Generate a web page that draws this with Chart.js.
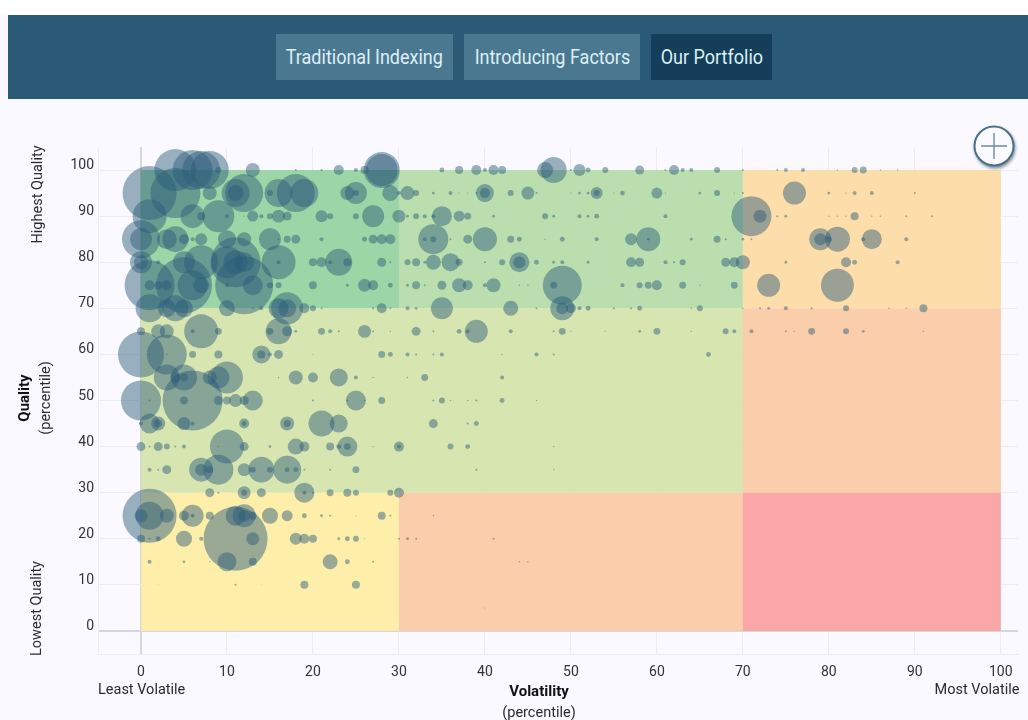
<!DOCTYPE html>
<html>
<head>
<meta charset="utf-8">
<title>Our Portfolio</title>
<script src="https://cdn.jsdelivr.net/npm/chart.js@4/dist/chart.umd.min.js"></script>
<style>
  html, body { margin: 0; padding: 0; width: 1028px; height: 720px; overflow: hidden; background: #f9f9ff; font-family: Roboto, sans-serif; }
  #topStrip { position: absolute; left: 0; top: 0; width: 1028px; height: 15px; background: #ffffff; }
  #header { position: absolute; left: 8px; top: 15px; width: 1020px; height: 84px; background: #2b5a76; }
  .tab { position: absolute; top: 34px; height: 46px; line-height: 46px; background: #4b7891; color: #dcf0f6; font-size: 20px; text-align: center; overflow: hidden; }
  .tab span { display: inline-block; transform: scaleX(0.9); white-space: nowrap; }
  .tab.active { background: #143e59; }
  #grafico { position: absolute; left: 0; top: 0; }
  .nota { position: absolute; color: #2b2b2b; font-size: 14.5px; white-space: nowrap; transform-origin: center center; text-align: center; line-height: 21px; }
  .nota b { font-weight: 700; color: #111; font-size: 15px; }
  #plus { position: absolute; left: 972px; top: 125px; }
</style>
</head>
<body>
<div id="topStrip"></div>
<div id="header"></div>
<div class="tab" style="left:276px;width:177px"><span>Traditional Indexing</span></div>
<div class="tab" style="left:464px;width:176px"><span>Introducing Factors</span></div>
<div class="tab active" style="left:651px;width:121px"><span>Our Portfolio</span></div>
<canvas id="grafico" width="1028" height="720"></canvas>

<div class="nota" style="left:98px;top:679px;width:86px">Least Volatile</div>
<div class="nota" style="left:932px;top:679px;width:90px">Most Volatile</div>
<div class="nota" style="left:479px;top:681px;width:120px"><b>Volatility</b><br>(percentile)</div>
<div class="nota" style="left:-23px;top:184px;width:120px;transform:rotate(-90deg)">Highest Quality</div>
<div class="nota" style="left:-24px;top:598px;width:120px;transform:rotate(-90deg)">Lowest Quality</div>
<div class="nota" style="left:-25px;top:377px;width:120px;transform:rotate(-90deg)"><b>Quality</b><br>(percentile)</div>

<svg id="plus" width="46" height="46">
  <defs><filter id="sombra" x="-30%" y="-30%" width="160%" height="160%"><feDropShadow dx="1" dy="2" stdDeviation="1.5" flood-color="#35495a" flood-opacity="0.6"/></filter></defs>
  <circle cx="22" cy="21" r="19.5" fill="#fbfbff" stroke="#4d6d84" stroke-width="2" filter="url(#sombra)"/>
  <path d="M9 21H35M22 8V34" stroke="#6f8ca0" stroke-width="1.4" fill="none"/>
</svg>

<script>
// Holdings per quality row: [volatility percentile, portfolio weight]
const q100 = [[4,441],[6,400],[7,361],[8,361],[9,9],[13,49],[18,1],[21,1],[23,25],[25,4],[26,16],[28,324],[28,256],[35,6],[37,16],[39,25],[40,4],[41,25],[42,16],[47,64],[48,169],[50,1],[51,36],[52,6],[54,9],[58,20],[61,1],[62,25],[63,4],[64,4],[67,9],[70,1],[74,1],[75,4],[77,4],[81,0.5],[83,9],[84,12],[86,0.5],[88,0.5]];
const q95 = [[1,729],[4,625],[8,49],[11,196],[11,64],[12,361],[15,9],[16,196],[18,361],[19,196],[24,49],[25,121],[25,9],[29,64],[30,4],[31,49],[32,9],[34,2],[36,4],[37,0.5],[38,0.5],[39,1],[40,81],[40,25],[43,9],[45,42],[46,1],[50,0.5],[51,2],[52,2],[53,36],[53,9],[55,0.5],[56,6],[60,30],[61,0.5],[65,2],[67,9],[69,0.5],[70,1],[76,132],[80,2],[82,0.5],[83,4],[85,4],[90,1]];
const q90 = [[1,289],[6,144],[7,16],[9,256],[10,4],[12,0.5],[13,30],[14,4],[15,9],[16,42],[17,20],[21,36],[22,9],[25,9],[27,121],[30,42],[31,2],[32,9],[33,4],[34,4],[35,100],[37,30],[38,12],[41,2],[47,9],[48,2],[51,4],[52,2],[53,6],[61,4],[71,400],[72,42],[74,1],[75,2],[80,0.5],[81,0.5],[82,0.5],[83,16],[85,0.5],[86,0.5],[89,1],[92,1]];
const q85 = [[0,361],[0,121],[3,100],[4,169],[5,25],[6,4],[7,36],[10,81],[12,49],[15,121],[16,1],[17,12],[18,20],[21,4],[26,6],[27,20],[28,25],[29,25],[33,4],[34,225],[34,9],[36,1],[38,20],[40,144],[43,12],[44,6],[47,0.5],[49,6],[53,4],[57,36],[59,144],[59,2],[64,2],[67,12],[68,1],[70,2],[71,1],[79,121],[79,36],[80,9],[81,156],[84,4],[85,100],[89,4]];
const q80 = [[0,121],[0,49],[2,4],[5,121],[7,289],[10,256],[11,625],[11,144],[12,100],[16,289],[16,4],[20,16],[21,25],[22,4],[23,182],[24,16],[28,20],[29,1],[31,9],[32,16],[33,2],[34,56],[36,81],[37,12],[40,1],[42,9],[44,100],[44,36],[46,6],[48,2],[49,4],[52,2],[57,25],[58,20],[61,4],[62,1],[63,9],[68,20],[69,25],[70,49],[75,2],[82,25],[83,6],[88,4]];
const q75 = [[1,625],[1,25],[2,16],[3,25],[5,784],[6,225],[7,64],[10,4],[12,841],[13,100],[15,9],[16,9],[20,16],[24,2],[26,42],[27,25],[29,6],[31,2],[32,16],[33,1],[35,20],[37,49],[38,25],[40,4],[41,49],[44,0.5],[45,0.5],[48,12],[49,380],[56,4],[58,9],[59,12],[60,25],[63,12],[65,0.5],[69,12],[73,132],[81,272]];
const q70 = [[1,196],[3,81],[4,169],[5,81],[10,64],[13,1],[14,4],[16,100],[17,256],[17,81],[19,25],[20,9],[21,1],[27,1],[28,25],[29,1],[31,4],[32,2],[35,121],[43,56],[46,1],[49,144],[49,36],[50,25],[51,4],[52,6],[55,1],[57,1],[58,6],[64,0.5],[65,9],[70,0.5],[72,1],[73,2],[75,4],[78,1],[82,9],[87,0.5],[89,0.5],[91,16]];
const q65 = [[0,16],[2,49],[3,49],[6,4],[7,289],[9,12],[15,12],[16,169],[17,25],[18,2],[21,12],[22,4],[23,1],[26,42],[27,1],[29,0.5],[32,20],[34,1],[37,6],[38,4],[39,132],[43,4],[48,1],[49,12],[50,0.5],[54,0.5],[58,2],[60,12],[64,0.5],[68,9],[69,4],[71,4],[75,1],[76,0.5],[78,12],[82,9],[84,2],[91,0.5]];
const q60 = [[0,529],[1,0.5],[3,400],[3,0.5],[6,12],[9,16],[14,81],[14,16],[15,4],[16,20],[20,0.25],[28,12],[29,6],[31,4],[32,1],[34,1],[35,4],[42,0.5],[46,4],[48,1],[66,6]];
const q55 = [[3,169],[4,25],[5,169],[5,16],[8,49],[9,121],[10,256],[16,0.5],[18,49],[20,25],[23,81],[25,4],[27,0.5],[31,0.5],[33,12],[42,4]];
const q50 = [[0,400],[1,1],[5,16],[6,900],[9,20],[10,16],[11,42],[12,20],[13,100],[20,1],[24,1],[25,100],[26,0.5],[28,12],[34,1],[35,9],[36,0.5],[38,0.5],[39,1],[42,6],[46,0.5]];
const q45 = [[0,4],[1,100],[2,49],[2,16],[5,42],[6,4],[12,25],[12,6],[17,49],[17,12],[21,169],[23,81],[34,20],[38,1],[39,6]];
const q40 = [[0,20],[1,1],[2,20],[3,9],[4,1],[5,4],[9,0.5],[10,289],[12,20],[15,2],[18,64],[19,25],[22,16],[23,6],[24,100],[24,12],[27,0.5],[30,25],[30,4],[36,9],[38,6],[48,0.5]];
const q35 = [[1,4],[2,1],[3,20],[7,144],[7,36],[8,12],[9,225],[12,42],[13,9],[14,169],[15,9],[17,196],[17,6],[18,6],[19,1],[22,1],[25,12],[39,1],[48,0.5]];
const q30 = [[8,20],[9,1],[12,42],[12,9],[14,20],[19,100],[19,4],[20,1],[22,12],[24,16],[25,9],[29,9],[30,25]];
const q25 = [[1,729],[1,196],[0,42],[3,49],[5,25],[6,121],[6,4],[8,16],[11,100],[12,132],[12,36],[13,16],[15,64],[17,30],[19,6],[21,2],[22,1],[25,0.25],[28,16],[29,1],[34,0.5]];
const q20 = [[0,16],[1,1],[2,6],[5,64],[7,4],[11,1024],[13,42],[18,36],[19,25],[20,16],[23,2],[24,6],[25,9],[26,0.25],[30,1],[31,2],[32,1],[41,1]];
const q15 = [[1,4],[5,2],[8,0.5],[10,90],[13,16],[22,56],[24,6],[27,1],[44,0.5],[45,0.5]];
const q10 = [[2,0.1],[11,1],[14,0.1],[19,16],[25,16]];
const q5 = [[40,0.25]];

const qualityLevels = [100, 95, 90, 85, 80, 75, 70, 65, 60, 55, 50, 45, 40, 35, 30, 25, 20, 15, 10, 5];
const holdings = [q100, q95, q90, q85, q80, q75, q70, q65, q60, q55, q50, q45, q40, q35, q30, q25, q20, q15, q10, q5];

// Background bands: volatility from/to, quality from/to, colour
const zoneX = [[0, 30], [30, 70], [70, 100], [0, 70], [70, 100], [0, 30], [30, 70], [70, 100]];
const zoneY = [[70, 100], [70, 100], [70, 100], [30, 70], [30, 70], [0, 30], [0, 30], [0, 30]];
const zoneColors = ['#94d29f', '#b6dba9', '#fddaa4', '#d4e4aa', '#fbcaa5', '#fdeda4', '#fbcaa5', '#fb9fa0'];

const tickValues = [0, 10, 20, 30, 40, 50, 60, 70, 80, 90, 100];

const bubbles = [];
holdings.forEach((linha, i) => {
  linha.forEach(h => bubbles.push({ x: h[0], y: qualityLevels[i], r: Math.sqrt(h[1]) }));
});

const zonas = {
  id: 'zonas',
  beforeDatasetsDraw(chart) {
    const { ctx, scales: { x, y } } = chart;
    ctx.save();
    ctx.globalAlpha = 0.93;
    zoneColors.forEach((cor, i) => {
      const left = x.getPixelForValue(zoneX[i][0]);
      const right = x.getPixelForValue(zoneX[i][1]);
      const top = y.getPixelForValue(zoneY[i][1]);
      const bottom = y.getPixelForValue(zoneY[i][0]);
      ctx.fillStyle = cor;
      ctx.fillRect(left, top, right - left, bottom - top);
    });
    ctx.restore();
  }
};

function eixo(min, max) {
  return {
    type: 'linear',
    min: min,
    max: max,
    afterBuildTicks: scale => { scale.ticks = tickValues.map(v => ({ value: v })); },
    grid: {
      color: ctx => (ctx.tick && ctx.tick.value === 0) ? '#d6d6de' : '#ecedf3',
      lineWidth: ctx => (ctx.tick && ctx.tick.value === 0) ? 2 : 1,
      drawTicks: false
    },
    border: { color: '#ecedf3' },
    ticks: { color: '#333', font: { family: 'Roboto', size: 14 }, autoSkip: false, maxRotation: 0 }
  };
}

const eixoX = eixo(-5, 102);
eixoX.ticks.padding = 10;
eixoX.afterFit = scale => { scale.height = 66; };
const eixoY = eixo(-5, 105);
eixoY.ticks.padding = 4;
// the reference sets its quality labels a little above the grid line: an empty second line lifts them
eixoY.ticks.font = { family: 'Roboto', size: 14, lineHeight: '9px' };
eixoY.ticks.callback = value => [String(value), ''];
eixoY.afterFit = scale => { scale.width = 98; };

new Chart(document.getElementById('grafico').getContext('2d'), {
  type: 'bubble',
  data: {
    datasets: [{
      label: 'Holdings',
      data: bubbles,
      backgroundColor: 'rgba(42, 92, 122, 0.47)',
      borderWidth: 0,
      clip: false
    }]
  },
  options: {
    responsive: false,
    animation: false,
    // autoPadding would shrink the plot to make room for the largest bubble
    layout: { autoPadding: false, padding: { top: 147, right: 10, left: 0, bottom: 0 } },
    plugins: { legend: { display: false }, tooltip: { enabled: false } },
    scales: { x: eixoX, y: eixoY }
  },
  plugins: [zonas]
});
</script>
</body>
</html>
